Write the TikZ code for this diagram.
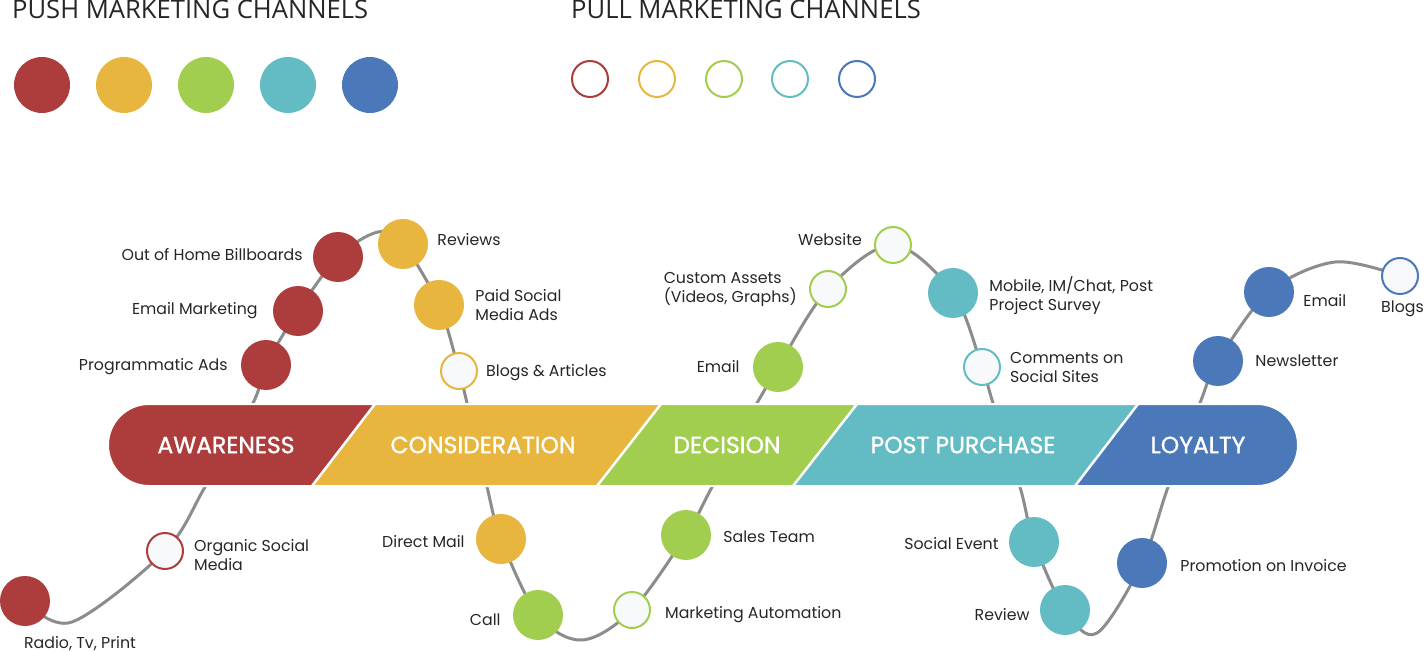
\documentclass[tikz,border=0pt]{standalone}
\usepackage{fontspec}
\setmainfont{Poppins}
\newfontfamily\headfont{Open Sans}
\newfontfamily\bandfont{Poppins}[FakeBold=1.2]
\usetikzlibrary{positioning}

\definecolor{awred}{HTML}{AD3D3D}
\definecolor{cnyellow}{HTML}{E8B63F}
\definecolor{dcgreen}{HTML}{A1CE4E}
\definecolor{ppteal}{HTML}{63BCC4}
\definecolor{lyblue}{HTML}{4A78B8}
\definecolor{paper}{HTML}{F7F9FB}
\definecolor{pathgray}{HTML}{8C8C8C}
\definecolor{inktext}{HTML}{262626}

\pgfdeclarelayer{curve}
\pgfdeclarelayer{band}
\pgfsetlayers{curve,band,main}

\tikzset{
  push/.style={circle, fill=#1, minimum size=50, inner sep=0},
  pull/.style={circle, draw=#1, line width=2, fill=paper, minimum size=36, inner sep=0},
  legendpush/.style={push=#1, minimum size=56},
  legendpull/.style={pull=#1, fill=white},
  lbl/.style={inner sep=0, text=inktext, align=left, font=\fontsize{15.8}{19}\selectfont},
  head/.style={inner sep=0, anchor=base west, text=inktext, font=\headfont\fontsize{25.6}{30}\selectfont},
  stage/.style={inner sep=0, text=white, font=\bandfont\fontsize{23.5}{26}\selectfont}
}

\begin{document}
\begin{tikzpicture}[x=1pt, y=-1pt]
  \useasboundingbox (0,0) rectangle (1425,652);

  % Legend
  \node[head] (pushhead) at (12,18.5) {PUSH MARKETING CHANNELS};
  \node[head] (pullhead) at (571,18.5) {PULL MARKETING CHANNELS};
  \node[legendpush=awred]    (lgpush1) at (42,85) {};
  \node[legendpush=cnyellow] (lgpush2) at (124,85) {};
  \node[legendpush=dcgreen]  (lgpush3) at (206,85) {};
  \node[legendpush=ppteal]   (lgpush4) at (288,85) {};
  \node[legendpush=lyblue]   (lgpush5) at (370,85) {};
  \node[legendpull=awred]    (lgpull1) at (590,79) {};
  \node[legendpull=cnyellow] (lgpull2) at (657,79) {};
  \node[legendpull=dcgreen]  (lgpull3) at (724,79) {};
  \node[legendpull=ppteal]   (lgpull4) at (790,79) {};
  \node[legendpull=lyblue]   (lgpull5) at (857,79) {};

  % Awareness
  \node[push=awred] (radio) at (25,601) {};
  \node[pull=awred] (organic) at (165,551) {};
  \node[push=awred] (prog) at (266,365) {};
  \node[push=awred] (emailmkt) at (298,311) {};
  \node[push=awred] (billboard) at (338,257) {};

  % Consideration
  \node[push=cnyellow] (reviews) at (403,244) {};
  \node[push=cnyellow] (paidsocial) at (439,305) {};
  \node[pull=cnyellow] (blogsart) at (459,371) {};
  \node[push=cnyellow] (directmail) at (501,539) {};

  % Decision
  \node[push=dcgreen] (call) at (538,615) {};
  \node[pull=dcgreen] (automation) at (632,610) {};
  \node[push=dcgreen] (salesteam) at (686,535) {};
  \node[push=dcgreen] (emaildec) at (778,367) {};
  \node[pull=dcgreen] (custom) at (828,289) {};
  \node[pull=dcgreen] (website) at (893,245) {};

  % Post purchase
  \node[push=ppteal] (mobile) at (953,293) {};
  \node[pull=ppteal] (comments) at (982,367) {};
  \node[push=ppteal] (socialevent) at (1034,542) {};
  \node[push=ppteal] (review) at (1065,610) {};

  % Loyalty
  \node[push=lyblue] (promo) at (1142,563) {};
  \node[push=lyblue] (newsletter) at (1218,361) {};
  \node[push=lyblue] (emailloy) at (1269,292) {};
  \node[pull=lyblue] (blogs) at (1400,276) {};

  % Labels
  \node[lbl, anchor=north] at (80,636) {Radio, Tv, Print};
  \node[lbl, right=10 of organic, yshift=-4] {Organic Social\\Media};
  \node[lbl, left=13 of prog, yshift=-2] {Programmatic Ads};
  \node[lbl, left=15 of emailmkt] {Email Marketing};
  \node[lbl, left=10 of billboard, yshift=2] {Out of Home Billboards};
  \node[lbl, right=9 of reviews, yshift=4] {Reviews};
  \node[lbl, right=11 of paidsocial] {Paid Social\\Media Ads};
  \node[lbl, right=8 of blogsart, yshift=-2] {Blogs \& Articles};
  \node[lbl, left=11 of directmail, yshift=-3] {Direct Mail};
  \node[lbl, left=12 of call, yshift=-5] {Call};
  \node[lbl, right=12 of salesteam, yshift=-2] {Sales Team};
  \node[lbl, right=14 of automation, yshift=-5] {Marketing Automation};
  \node[lbl, left=13 of emaildec] {Email};
  \node[lbl, left=12 of custom] {Custom Assets\\(Videos, Graphs)};
  \node[lbl, left=12 of website, yshift=5] {Website};
  \node[lbl, right=11 of mobile, yshift=-3] {Mobile, IM/Chat, Post\\Project Survey};
  \node[lbl, right=9 of comments] {Comments on\\Social Sites};
  \node[lbl, left=10 of socialevent, yshift=-2] {Social Event};
  \node[lbl, left=10 of review, yshift=-5] {Review};
  \node[lbl, right=13 of promo, yshift=-3] {Promotion on Invoice};
  \node[lbl, right=12 of newsletter] {Newsletter};
  \node[lbl, right=9 of emailloy, yshift=-9] {Email};
  \node[lbl, anchor=west] at (1381,309) {Blogs};

  % Journey line
  \coordinate (k1) at (72,622);
  \coordinate (k2) at (205,487);
  \coordinate (k3) at (253,403);
  \coordinate (k4) at (378,232);
  \coordinate (k5) at (467,403);
  \coordinate (k6) at (487,487);
  \coordinate (k7) at (582,640);
  \coordinate (k8) at (712,487);
  \coordinate (k9) at (757,403);
  \coordinate (k10) at (993,403);
  \coordinate (k11) at (1020,487);
  \coordinate (k12) at (1097,633);
  \coordinate (k13) at (1168,487);
  \coordinate (k14) at (1200,403);
  \coordinate (k15) at (1335,262);
  \begin{pgfonlayer}{curve}
    \draw[pathgray, line width=3] plot[smooth, tension=0.55] coordinates {
      (radio) (k1) (organic) (k2) (k3) (prog) (emailmkt) (billboard) (k4)
      (reviews) (paidsocial) (blogsart) (k5) (k6) (directmail) (call) (k7)
      (automation) (salesteam) (k8) (k9) (emaildec) (custom) (website)
      (mobile) (comments) (k10) (k11) (socialevent) (review) (k12) (promo)
      (k13) (k14) (newsletter) (emailloy) (k15) (blogs)};
  \end{pgfonlayer}

  % Stage band
  \begin{pgfonlayer}{band}
    \fill[awred] (375,404) -- (149,404) arc[start angle=270, end angle=90, radius=41] -- (312,486) -- cycle;
    \fill[cnyellow] (375,404) -- (661,404) -- (597,486) -- (312,486) -- cycle;
    \fill[dcgreen] (661,404) -- (857,404) -- (793,486) -- (597,486) -- cycle;
    \fill[ppteal] (857,404) -- (1138,404) -- (1075,486) -- (793,486) -- cycle;
    \fill[lyblue] (1138,404) -- (1257,404) arc[start angle=270, end angle=450, radius=41] -- (1075,486) -- cycle;
    \draw[white, line width=2] (149,404) arc[start angle=270, end angle=90, radius=41] -- (1257,486) arc[start angle=90, end angle=-90, radius=41] -- cycle;
    \draw[white, line width=2.5] (375,404) -- (312,486);
    \draw[white, line width=2.5] (661,404) -- (597,486);
    \draw[white, line width=2.5] (857,404) -- (793,486);
    \draw[white, line width=2.5] (1138,404) -- (1075,486);
  \end{pgfonlayer}
  \node[stage] (awareness) at (226,445) {AWARENESS};
  \node[stage] (consideration) at (483,445) {CONSIDERATION};
  \node[stage] (decision) at (727,445) {DECISION};
  \node[stage] (postpurchase) at (963,445) {POST PURCHASE};
  \node[stage] (loyalty) at (1198,445) {LOYALTY};
\end{tikzpicture}
\end{document}
